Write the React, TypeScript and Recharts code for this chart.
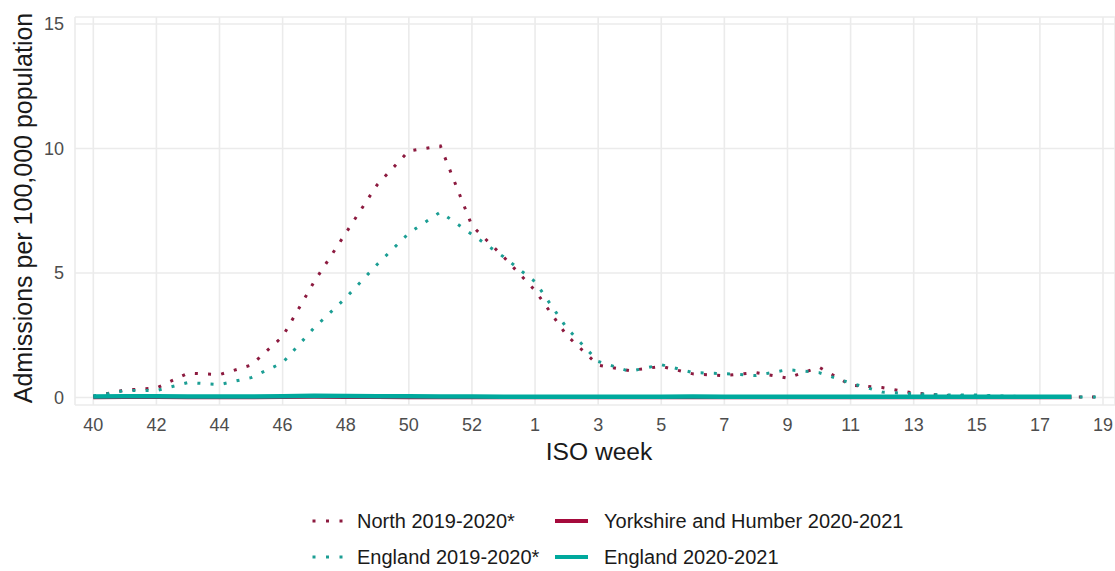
import React from 'react';
import { LineChart, Line, XAxis, YAxis, CartesianGrid } from 'recharts';

const weeks: number[] = [40, 41, 42, 43, 44, 45, 46, 47, 48, 49, 50, 51, 52, 53, 1, 2, 3, 4, 5, 6, 7, 8, 9, 10, 11, 12, 13, 14, 15, 16, 17, 18, 19];

const north1920: number[] = [0.05, 0.3, 0.38, 0.98, 0.92, 1.3, 2.45, 4.65, 6.6, 8.55, 9.9, 10.1, 6.9, 5.65, 4.3, 2.5, 1.3, 1.08, 1.25, 0.95, 0.88, 1.0, 0.78, 1.22, 0.5, 0.4, 0.18, 0.08, 0.05, 0.04, 0.03, 0.02, 0.02];

const england1920: number[] = [0.05, 0.28, 0.28, 0.6, 0.52, 0.8, 1.4, 2.8, 4.0, 5.35, 6.6, 7.45, 6.55, 5.65, 4.65, 2.8, 1.45, 1.05, 1.32, 1.0, 0.96, 0.88, 1.12, 1.0, 0.58, 0.22, 0.15, 0.1, 0.1, 0.05, 0.03, 0.02, 0.02];

const yorkshire2021: number[] = [0.01, 0.02, 0.02, 0.01, 0.01, 0.01, 0.02, 0.03, 0.02, 0.02, 0.01, 0.01, 0.01, 0.01, 0.01, 0.01, 0.01, 0.01, 0.01, 0.01, 0.01, 0.01, 0.01, 0.01, 0.01, 0.01, 0.01, 0.01, 0.01, 0.01, 0.01, 0.01];

const england2021: number[] = [0.04, 0.05, 0.05, 0.04, 0.04, 0.04, 0.05, 0.07, 0.06, 0.05, 0.05, 0.04, 0.04, 0.03, 0.03, 0.03, 0.03, 0.03, 0.03, 0.04, 0.03, 0.03, 0.03, 0.03, 0.03, 0.03, 0.03, 0.03, 0.03, 0.03, 0.03, 0.03];

const xTicks: number[] = [0, 2, 4, 6, 8, 10, 12, 14, 16, 18, 20, 22, 24, 26, 28, 30, 32];
const yTicks: number[] = [0, 5, 10, 15];

const legendItems = [
  { label: 'North 2019-2020*', color: '#8C1A3F', dotted: true },
  { label: 'Yorkshire and Humber 2020-2021', color: '#A50A3C', dotted: false },
  { label: 'England 2019-2020*', color: '#1C9E94', dotted: true },
  { label: 'England 2020-2021', color: '#00A99D', dotted: false },
];

const data = weeks.map((w, i) => ({
  idx: i,
  week: w,
  north1920: north1920[i],
  england1920: england1920[i],
  yorkshire2021: i < yorkshire2021.length ? yorkshire2021[i] : undefined,
  england2021: i < england2021.length ? england2021[i] : undefined,
}));

const FONT = '"Liberation Sans", Arial, Helvetica, sans-serif';
const DOT_DASH = '3 10.2';

export default function App() {
  return (
    <div style={{ position: 'absolute', left: 0, top: 0, width: 1115, height: 571, background: '#fff', fontFamily: FONT }}>
      <LineChart width={1115} height={571} data={data} margin={{ top: 17, right: 0, left: 0, bottom: 106 }}>
        <CartesianGrid stroke="#EBEBEB" strokeWidth={1.6} />
        <XAxis
          dataKey="idx"
          type="number"
          domain={[-0.58, 32.38]}
          allowDataOverflow
          ticks={xTicks}
          interval={0}
          tickFormatter={(v: number) => String(weeks[v])}
          tickLine={false}
          axisLine={false}
          tickSize={0}
          tickMargin={13}
          height={60}
          tick={{ fill: '#4D4D4D', fontSize: 18, fontFamily: FONT }}
          label={{ value: 'ISO week', position: 'insideBottom', offset: 5, dx: 4, fill: '#1A1A1A', fontSize: 24.6, fontFamily: FONT }}
        />
        <YAxis
          type="number"
          domain={[-0.3, 15.28]}
          allowDataOverflow
          ticks={yTicks}
          tickLine={false}
          axisLine={false}
          tickSize={0}
          tickMargin={11}
          width={75}
          tick={{ fill: '#4D4D4D', fontSize: 18, fontFamily: FONT }}
          label={{ value: 'Admissions per 100,000 population', angle: -90, position: 'insideLeft', offset: 23, dy: -3, fill: '#1A1A1A', fontSize: 25, fontFamily: FONT, style: { textAnchor: 'middle' } }}
        />
        <Line type="linear" dataKey="north1920" stroke="#8C1A3F" strokeWidth={3} strokeDasharray={DOT_DASH} dot={false} activeDot={false} isAnimationActive={false} />
        <Line type="linear" dataKey="england1920" stroke="#1C9E94" strokeWidth={3} strokeDasharray={DOT_DASH} dot={false} activeDot={false} isAnimationActive={false} />
        <Line type="linear" dataKey="yorkshire2021" stroke="#A50A3C" strokeWidth={4} dot={false} activeDot={false} isAnimationActive={false} />
        <Line type="linear" dataKey="england2021" stroke="#00A99D" strokeWidth={4.5} dot={false} activeDot={false} isAnimationActive={false} />
      </LineChart>
      {legendItems.map((item, i) => {
        const col = i % 2;
        const row = Math.floor(i / 2);
        const left = col === 0 ? 311 : 554;
        const textLeft = col === 0 ? 357 : 604;
        const cy = row === 0 ? 521 : 557;
        return (
          <React.Fragment key={item.label}>
            <svg style={{ position: 'absolute', left, top: cy - 5 }} width={36} height={10}>
              {item.dotted ? (
                <line x1={1.5} y1={5} x2={36} y2={5} stroke={item.color} strokeWidth={3} strokeDasharray="3 10.5" />
              ) : (
                <line x1={1} y1={5} x2={34} y2={5} stroke={item.color} strokeWidth={4} />
              )}
            </svg>
            <div style={{ position: 'absolute', left: textLeft, top: cy - 13, height: 26, lineHeight: '26px', fontSize: 20, color: '#1A1A1A', whiteSpace: 'nowrap', fontFamily: FONT }}>
              {item.label}
            </div>
          </React.Fragment>
        );
      })}
    </div>
  );
}
